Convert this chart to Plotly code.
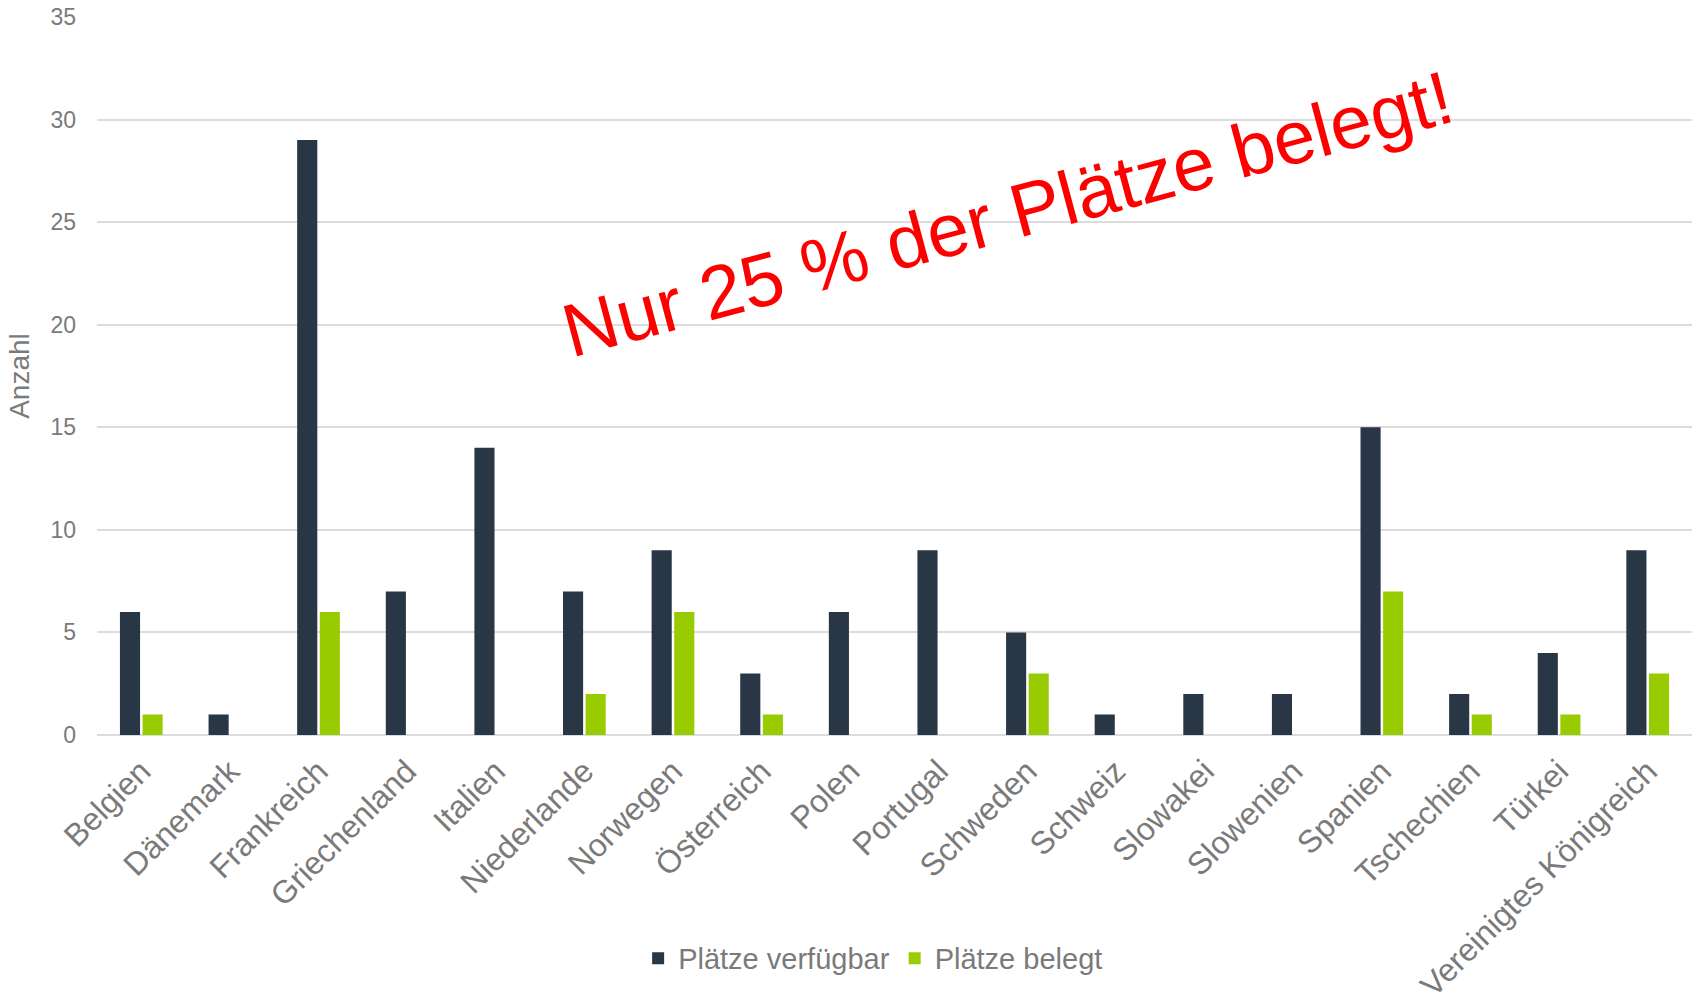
import plotly.graph_objects as go

categories = ["Belgien", "Dänemark", "Frankreich", "Griechenland", "Italien", "Niederlande",
              "Norwegen", "Österreich", "Polen", "Portugal", "Schweden", "Schweiz",
              "Slowakei", "Slowenien", "Spanien", "Tschechien", "Türkei", "Vereinigtes Königreich"]
verfuegbar = [6, 1, 29, 7, 14, 7, 9, 3, 6, 9, 5, 1, 2, 2, 15, 2, 4, 9]
belegt = [1, 0, 6, 0, 0, 2, 6, 1, 0, 0, 3, 0, 0, 0, 7, 1, 1, 3]
y_ticks = [0, 5, 10, 15, 20, 25, 30, 35]

DARK = "#283646"
GREEN = "#99CC00"
GRAY = "#7a7a7a"
FONT = "Arial, Liberation Sans, sans-serif"

fig = go.Figure()
fig.add_trace(go.Bar(name="Plätze verfügbar", x=categories, y=verfuegbar,
                     marker=dict(color=DARK, line=dict(width=0))))
fig.add_trace(go.Bar(name="Plätze belegt", x=categories, y=belegt,
                     marker=dict(color=GREEN, line=dict(width=0))))

fig.add_annotation(text="Nur 25 % der Plätze belegt!", xref="paper", yref="paper",
                   x=0.571, y=0.7256, xanchor="center", yanchor="middle",
                   textangle=-15, showarrow=False,
                   font=dict(family=FONT, size=75, color="#FF0000"))

fig.update_layout(
    width=1692, height=994,
    margin=dict(l=97, r=0, t=17, b=259, autoexpand=False),
    plot_bgcolor="white", paper_bgcolor="white",
    barmode="group", bargap=0.49, bargroupgap=0.11,
    font=dict(family=FONT, color=GRAY),
    showlegend=True,
    legend=dict(orientation="h", x=0.4866, xanchor="center", y=-0.311, yanchor="middle",
                font=dict(size=29, color=GRAY), itemwidth=30, traceorder="normal"),
    xaxis=dict(tickangle=-45, tickfont=dict(size=32, color=GRAY), showgrid=False,
               showline=False, ticks="", ticklabelstandoff=10, automargin=False),
    yaxis=dict(range=[0, 35], tickvals=y_ticks, tickfont=dict(size=23, color=GRAY),
               showgrid=True, gridcolor="#dcdcdc", gridwidth=1.5,
               zeroline=True, zerolinecolor="#dcdcdc", zerolinewidth=2,
               ticks="", ticklabelstandoff=20, automargin=False,
               title=dict(text="Anzahl", font=dict(size=28, color=GRAY), standoff=12)),
)

fig.write_html("out.html")
